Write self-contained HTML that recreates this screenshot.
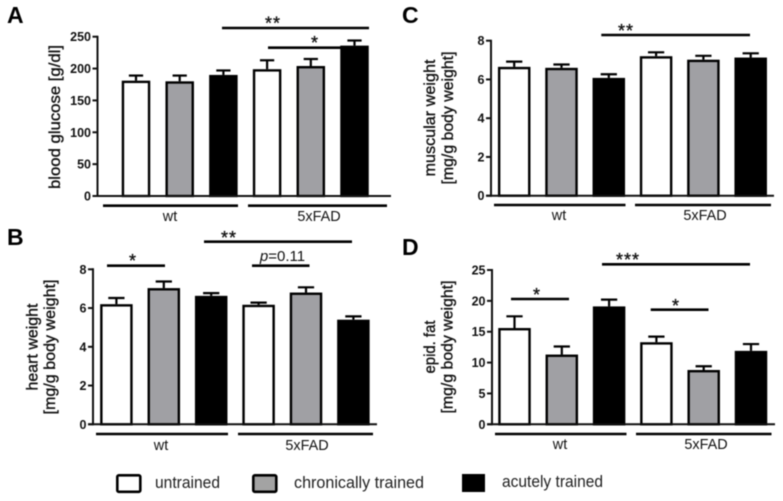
<!DOCTYPE html>
<html>
<head>
<meta charset="utf-8">
<title>Bar charts</title>
<style>
html,body{margin:0;padding:0;background:#fff;width:783px;height:501px;overflow:hidden}
svg{display:block;filter:blur(.45px)}
text{font-family:"Liberation Sans",sans-serif;fill:#111}
.title{font-size:16px;text-anchor:middle;stroke:#111;stroke-width:.35}
.tick{font-size:12.5px;font-weight:bold;text-anchor:end}
.group{font-size:14.4px;text-anchor:middle}
.star{font-size:18px;text-anchor:middle;letter-spacing:1px;stroke:#111;stroke-width:.3}
.letter{font-size:23px;font-weight:bold;fill:#000}
.legend{font-size:16.5px;fill:#222}
.line{stroke:#000;stroke-width:2.6}
</style>
</head>
<body>
<svg id="chart" width="783" height="501" viewBox="0 0 783 501" xmlns="http://www.w3.org/2000/svg">
  <text class="letter" x="7" y="23">A</text>
  <text class="letter" x="7" y="245">B</text>
  <text class="letter" x="402" y="23">C</text>
  <text class="letter" x="402" y="255">D</text>

  <text class="title" transform="translate(60 117) rotate(-90)" textLength="144" lengthAdjust="spacingAndGlyphs">blood glucose [g/dl]</text>
  <text class="title" transform="translate(37.5 347) rotate(-90)" textLength="87" lengthAdjust="spacingAndGlyphs">heart weight</text>
  <text class="title" transform="translate(55 347) rotate(-90)" textLength="135" lengthAdjust="spacingAndGlyphs">[mg/g body weight]</text>
  <text class="title" transform="translate(435 118) rotate(-90)" textLength="117" lengthAdjust="spacingAndGlyphs">muscular weight</text>
  <text class="title" transform="translate(453 118) rotate(-90)" textLength="133" lengthAdjust="spacingAndGlyphs">[mg/g body weight]</text>
  <text class="title" transform="translate(435 347) rotate(-90)" textLength="53" lengthAdjust="spacingAndGlyphs">epid. fat</text>
  <text class="title" transform="translate(452.5 347) rotate(-90)" textLength="133" lengthAdjust="spacingAndGlyphs">[mg/g body weight]</text>

  <line class="line" x1="103" x2="238" y1="205.7" y2="205.7"/>
  <line class="line" x1="248" x2="387" y1="205.7" y2="205.7"/>
  <text class="group" x="170" y="221">wt</text>
  <text class="group" x="319" y="221">5xFAD</text>
  <line class="line" x1="96" x2="228" y1="434" y2="434"/>
  <line class="line" x1="238" x2="373" y1="434" y2="434"/>
  <text class="group" x="161" y="450">wt</text>
  <text class="group" x="307" y="450">5xFAD</text>
  <line class="line" x1="494" x2="625.5" y1="205" y2="205"/>
  <line class="line" x1="635" x2="771" y1="205" y2="205"/>
  <text class="group" x="559" y="220">wt</text>
  <text class="group" x="705" y="220">5xFAD</text>
  <line class="line" x1="495" x2="626.5" y1="434" y2="434"/>
  <line class="line" x1="636" x2="771.5" y1="434" y2="434"/>
  <text class="group" x="560" y="449">wt</text>
  <text class="group" x="706" y="449">5xFAD</text>

  <g id="marks"></g>

  <line class="line" x1="222" x2="369" y1="28" y2="28"/>
  <text class="star" x="273" y="29.5">**</text>
  <line class="line" x1="268" x2="345" y1="47.7" y2="47.7"/>
  <text class="star" x="315" y="49">*</text>
  <line class="line" x1="204" x2="352" y1="241.7" y2="241.7"/>
  <text class="star" x="229" y="244">**</text>
  <line class="line" x1="107" x2="165" y1="265.7" y2="265.7"/>
  <text class="star" x="133" y="267">*</text>
  <line class="line" x1="252" x2="309.5" y1="265.7" y2="265.7"/>
  <text x="282.5" y="261" text-anchor="middle" font-size="15"><tspan font-style="italic">p</tspan>=0.11</text>
  <line class="line" x1="601.3" x2="750" y1="35" y2="35"/>
  <text class="star" x="626" y="37">**</text>
  <line class="line" x1="602" x2="750" y1="264.3" y2="264.3"/>
  <text class="star" x="628" y="266">***</text>
  <line class="line" x1="511" x2="569" y1="299" y2="299"/>
  <text class="star" x="537" y="301">*</text>
  <line class="line" x1="650.7" x2="708.5" y1="309.7" y2="309.7"/>
  <text class="star" x="676" y="312">*</text>

  <rect x="117.3" y="475.3" width="23" height="16.5" rx="1.5" fill="#fff" stroke="#000" stroke-width="2.6"/>
  <text class="legend" x="155" y="488" textLength="65" lengthAdjust="spacingAndGlyphs">untrained</text>
  <rect x="253.3" y="475.3" width="23" height="16.5" rx="1.5" fill="#a3a3a3" stroke="#000" stroke-width="2.6"/>
  <text class="legend" x="294" y="488" textLength="130" lengthAdjust="spacingAndGlyphs">chronically  trained</text>
  <rect x="462" y="474" width="23" height="18" fill="#000"/>
  <text class="legend" x="502" y="487" textLength="101" lengthAdjust="spacingAndGlyphs">acutely trained</text>
</svg>
<script>
const categories = ['wt-untrained', 'wt-chronic', 'wt-acute', '5xfad-untrained', '5xfad-chronic', '5xfad-acute'];

const panelAValues = [181, 180, 190, 199, 204, 236];
const panelAErrorTops = [189, 189, 197, 213, 215, 244];
const panelATicks = [0, 50, 100, 150, 200, 250];

const panelBValues = [6.2, 7.03, 6.63, 6.17, 6.8, 5.4];
const panelBErrorTops = [6.52, 7.37, 6.77, 6.28, 7.07, 5.57];
const panelBTicks = [0, 2, 4, 6, 8];

const panelCValues = [6.65, 6.6, 6.08, 7.2, 7.02, 7.13];
const panelCErrorTops = [6.92, 6.77, 6.27, 7.4, 7.22, 7.35];
const panelCTicks = [0, 2, 4, 6, 8];

const panelDValues = [15.6, 11.3, 19.1, 13.3, 8.8, 11.9];
const panelDErrorTops = [17.5, 12.6, 20.2, 14.2, 9.4, 13.0];
const panelDTicks = [0, 5, 10, 15, 20, 25];

const SVG_NS = 'http://www.w3.org/2000/svg';
const marks = document.getElementById('marks');

function shape(tag, props) {
  const node = document.createElementNS(SVG_NS, tag);
  for (const key in props) node.setAttribute(key, props[key]);
  marks.appendChild(node);
  return node;
}

function drawPanel(id, values, errorTops, ticks, box) {
  const yScale = v => box.y0 - (v / ticks[ticks.length - 1]) * (box.y0 - box.yTop);
  const xScale = i => box.first + i * box.step;
  const fills = ['#fff', '#a0a0a4', '#000'];

  values.forEach((value, i) => {
    const cx = xScale(i);
    const top = yScale(value);
    const errTop = yScale(errorTops[i]);
    const cap = box.barW * 0.5;

    const stem = shape('line', {x1: cx, x2: cx, y1: errTop, y2: top, stroke: '#000', 'stroke-width': 2.2});
    
    

    const capLine = shape('line', {x1: cx - cap / 2, x2: cx + cap / 2, y1: errTop, y2: errTop, stroke: '#000', 'stroke-width': 2.2});
    
    

    const bar = shape('rect', {
      x: cx - box.barW / 2 + 1.2,
      y: top + 1.2,
      width: box.barW - 2.4,
      height: Math.max(0, box.y0 - top - 1.2),
      fill: fills[i % 3],
      stroke: '#000',
      'stroke-width': 2.4
    });
    
    
  });

  const yAxis = shape('line', {x1: box.x0, x2: box.x0, y1: box.yTop - 1, y2: box.y0 + 1, stroke: '#111', 'stroke-width': 2});
  
  

  const xAxis = shape('line', {x1: box.x0 - 5, x2: box.xEnd, y1: box.y0, y2: box.y0, stroke: '#111', 'stroke-width': 2});
  
  

  ticks.forEach(t => {
    const y = yScale(t);
    const tick = shape('line', {x1: box.x0 - 5, x2: box.x0, y1: y, y2: y, stroke: '#111', 'stroke-width': 2});
    
    

    const label = shape('text', {class: 'tick', x: box.x0 - 6.5, y: y + 4.5});
    label.textContent = t;
    
    
  });
}

drawPanel('a', panelAValues, panelAErrorTops, panelATicks, {x0: 97.5, xEnd: 391, y0: 196, yTop: 36.7, first: 136, step: 43.7, barW: 28.5});
drawPanel('b', panelBValues, panelBErrorTops, panelBTicks, {x0: 93, xEnd: 377, y0: 424.3, yTop: 269.3, first: 116.4, step: 47.4, barW: 32.5});
drawPanel('c', panelCValues, panelCErrorTops, panelCTicks, {x0: 491, xEnd: 774, y0: 195.7, yTop: 40.7, first: 514.2, step: 47.3, barW: 32.5});
drawPanel('d', panelDValues, panelDErrorTops, panelDTicks, {x0: 492, xEnd: 775, y0: 424.3, yTop: 270, first: 514.5, step: 47.3, barW: 32.5});
</script>
</body>
</html>
